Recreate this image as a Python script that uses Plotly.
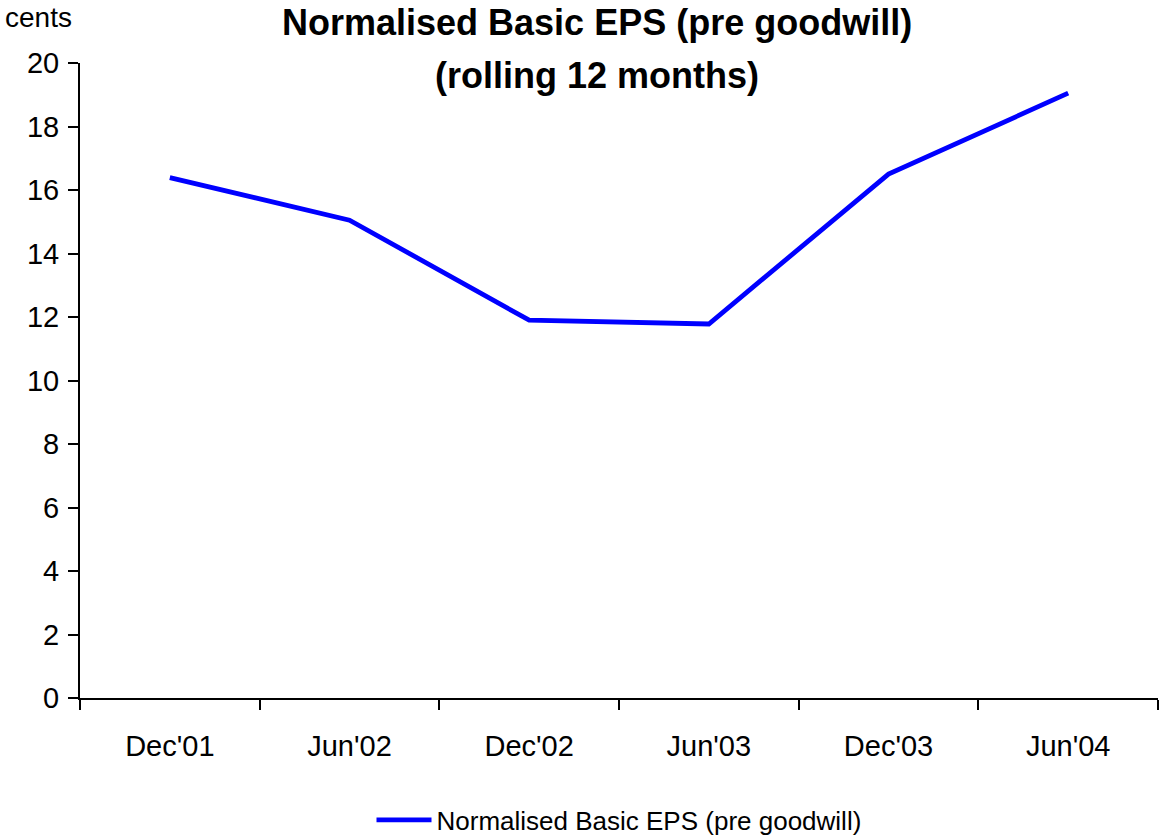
import plotly.graph_objects as go

categories = ["Dec'01", "Jun'02", "Dec'02", "Jun'03", "Dec'03", "Jun'04"]
eps_values = [16.39, 15.05, 11.90, 11.78, 16.50, 19.05]
series_name = "Normalised Basic EPS (pre goodwill)"
title_lines = ["Normalised Basic EPS (pre goodwill)", "(rolling 12 months)"]
y_label = "cents"

FONT = "Liberation Sans, Arial, sans-serif"

fig = go.Figure()
fig.add_trace(go.Scatter(
    x=categories, y=eps_values, mode="lines", name=series_name,
    line=dict(color="#0000FF", width=4.8),
))

L, R, T, B = 80, 5, 63, 139
W, H = 1163, 837
plot_w = W - L - R
plot_h = H - T - B


def px_x(x):
    return (x - L) / plot_w


def px_y(y):
    return (H - B - y) / plot_h


fig.update_layout(
    width=W, height=H,
    margin=dict(l=L, r=R, t=T, b=B, autoexpand=False),
    paper_bgcolor="white", plot_bgcolor="white",
    font=dict(family=FONT, color="black", size=29),
    showlegend=True,
    legend=dict(orientation="h", x=0.5, xanchor="center", y=px_y(820), yanchor="middle",
                font=dict(size=26, family=FONT), itemwidth=55, bgcolor="rgba(0,0,0,0)"),
    xaxis=dict(type="category", range=[-0.5, 5.5], showline=True, linecolor="black",
               linewidth=2, ticks="outside", tickson="boundaries", ticklen=10,
               tickcolor="black", tickwidth=2, showgrid=False, zeroline=False,
               tickfont=dict(size=29, family=FONT), ticklabelstandoff=21, automargin=False),
    yaxis=dict(range=[0, 20], dtick=2, showline=True, linecolor="black", linewidth=2,
               ticks="outside", ticklen=10, tickcolor="black", tickwidth=2,
               showgrid=False, zeroline=False, tickfont=dict(size=29, family=FONT),
               ticklabelstandoff=3, automargin=False),
    annotations=[
        dict(text="<b>" + title_lines[0] + "</b>", x=px_x(597), xref="paper", y=px_y(22), yref="paper",
             showarrow=False, font=dict(size=36, family=FONT), xanchor="center", yanchor="middle"),
        dict(text="<b>" + title_lines[1] + "</b>", x=px_x(597), xref="paper", y=px_y(75), yref="paper",
             showarrow=False, font=dict(size=36, family=FONT), xanchor="center", yanchor="middle"),
        dict(text=y_label, x=px_x(3), xref="paper", y=px_y(17), yref="paper", showarrow=False,
             font=dict(size=28, family=FONT), xanchor="left", yanchor="middle"),
    ],
)

fig.write_html("out.html")
